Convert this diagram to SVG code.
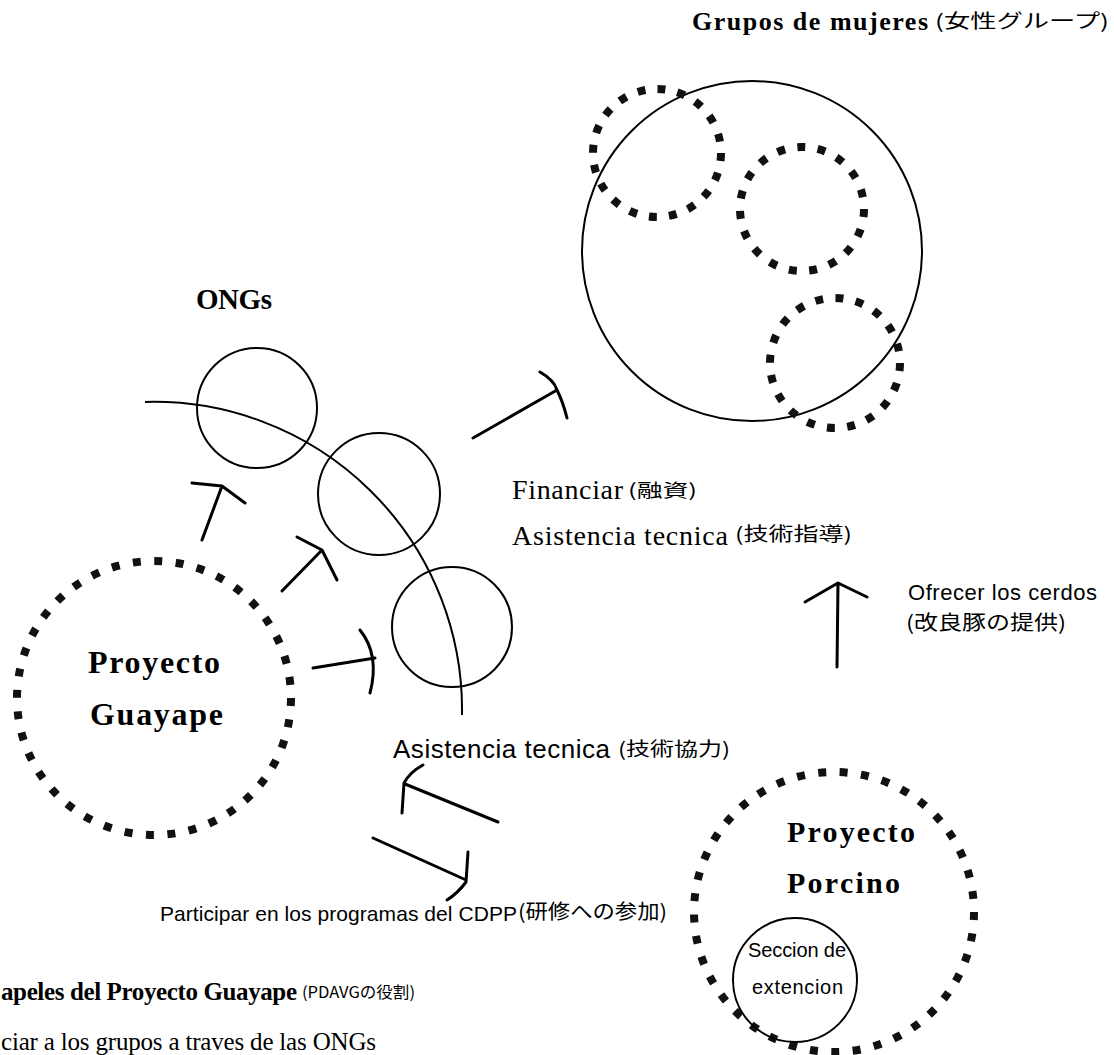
<svg xmlns="http://www.w3.org/2000/svg" width="1114" height="1055" viewBox="0 0 1114 1055">
<style>
.solid{fill:none;stroke:#000;stroke-width:2}
.dot{fill:none;stroke:#111;stroke-width:8}
.arrow{fill:none;stroke:#000;stroke-width:3;stroke-linecap:round;stroke-linejoin:round}
.sb{font-family:"Liberation Serif","Noto Sans CJK JP",serif;font-weight:bold;fill:#000}
.sr{font-family:"Liberation Serif","Noto Sans CJK JP",serif;fill:#000}
.ss{font-family:"Liberation Sans","Noto Sans CJK JP",sans-serif;fill:#000}
.cj{font-family:"Noto Sans CJK JP",sans-serif;fill:#000}
</style>
<rect width="1114" height="1055" fill="#fff"/>

<g id="node-grupos">
  <text class="sb" x="692" y="30" font-size="26" textLength="236" lengthAdjust="spacing">Grupos de mujeres</text>
  <text class="cj" x="935" y="28" font-size="19" textLength="174" lengthAdjust="spacingAndGlyphs">(女性グループ)</text>
  <circle class="solid" cx="752" cy="251" r="170"/>
  <circle class="dot" cx="657" cy="153" r="64" stroke-dasharray="8 12.106"/>
  <circle class="dot" cx="802" cy="209" r="62" stroke-dasharray="8 12.5"/>
  <circle class="dot" cx="835" cy="363" r="65" stroke-dasharray="8 12.42"/>
</g>

<g id="node-ongs">
  <text class="sb" x="196" y="309" font-size="29" textLength="76" lengthAdjust="spacing">ONGs</text>
  <path class="solid" d="M145,402 A308,308 0 0 1 462,715"/>
  <circle class="solid" cx="257" cy="408" r="60"/>
  <circle class="solid" cx="379" cy="494" r="61"/>
  <circle class="solid" cx="452" cy="627" r="60"/>
</g>

<g id="node-guayape">
  <circle class="dot" cx="154" cy="698" r="137" stroke-dasharray="8 13.52"/>
  <text class="sb" x="88" y="673" font-size="32" textLength="132" lengthAdjust="spacing">Proyecto</text>
  <text class="sb" x="90" y="725" font-size="32" textLength="133" lengthAdjust="spacing">Guayape</text>
</g>

<g id="node-porcino">
  <circle class="dot" cx="834" cy="912" r="140" stroke-dasharray="8 13.455"/>
  <text class="sb" x="787" y="842" font-size="30" textLength="128" lengthAdjust="spacing">Proyecto</text>
  <text class="sb" x="787" y="893" font-size="30" textLength="113" lengthAdjust="spacing">Porcino</text>
</g>

<g id="node-seccion">
  <circle class="solid" cx="795" cy="980" r="62"/>
  <text class="ss" x="748" y="957" font-size="20" textLength="98" lengthAdjust="spacing">Seccion de</text>
  <text class="ss" x="752" y="994" font-size="20" textLength="91" lengthAdjust="spacing">extencion</text>
</g>

<g id="connectors">
  <path class="arrow" d="M202,540 L222,486 M192,483 L222,486 L245,503"/>
  <path class="arrow" d="M282,591 L322,550 M297,537 L322,550 L337,580"/>
  <path class="arrow" d="M313,668 L375,658 M360,630 Q380,655 370,693"/>
  <path class="arrow" d="M473,438 L557,390 M540,372 Q554,380 557,390 Q563,402 567,418"/>
  <path class="arrow" d="M837,667 L838,583 M805,602 L838,583 L867,597"/>
  <path class="arrow" d="M498,822 L405,784 M423,765 Q410,772 404,783 L402,813"/>
  <path class="arrow" d="M373,838 L466,880 M468,852 L466,882 Q458,893 447,900"/>
</g>

<g id="labels">
  <text class="sr" x="512" y="499" font-size="28" textLength="111" lengthAdjust="spacing">Financiar</text>
  <text class="cj" x="628" y="497" font-size="18" textLength="69" lengthAdjust="spacingAndGlyphs">(融資)</text>
  <text class="sr" x="512" y="545" font-size="28" textLength="216" lengthAdjust="spacing">Asistencia tecnica</text>
  <text class="cj" x="735" y="541" font-size="19" textLength="117" lengthAdjust="spacingAndGlyphs">(技術指導)</text>
  <text class="ss" x="908" y="600" font-size="22" textLength="189" lengthAdjust="spacing">Ofrecer los cerdos</text>
  <text class="cj" x="906" y="630" font-size="20" textLength="160" lengthAdjust="spacingAndGlyphs">(改良豚の提供)</text>
  <text class="ss" x="393" y="758" font-size="26" textLength="217" lengthAdjust="spacing">Asistencia tecnica</text>
  <text class="cj" x="618" y="756" font-size="19" textLength="112" lengthAdjust="spacingAndGlyphs">(技術協力)</text>
  <text class="ss" x="160" y="921" font-size="21" textLength="357" lengthAdjust="spacing">Participar en los programas del CDPP</text>
  <text class="cj" x="518" y="919" font-size="20" textLength="149" lengthAdjust="spacingAndGlyphs">(研修への参加)</text>
</g>

<g id="footer">
  <text class="sb" x="1" y="1000" font-size="25" textLength="296" lengthAdjust="spacing">apeles del Proyecto Guayape</text>
  <text class="cj" x="302" y="998" font-size="16" textLength="113" lengthAdjust="spacingAndGlyphs">(PDAVGの役割)</text>
  <text class="sr" x="1" y="1050" font-size="25" textLength="375" lengthAdjust="spacing">ciar a los grupos a traves de las ONGs</text>
</g>
</svg>
